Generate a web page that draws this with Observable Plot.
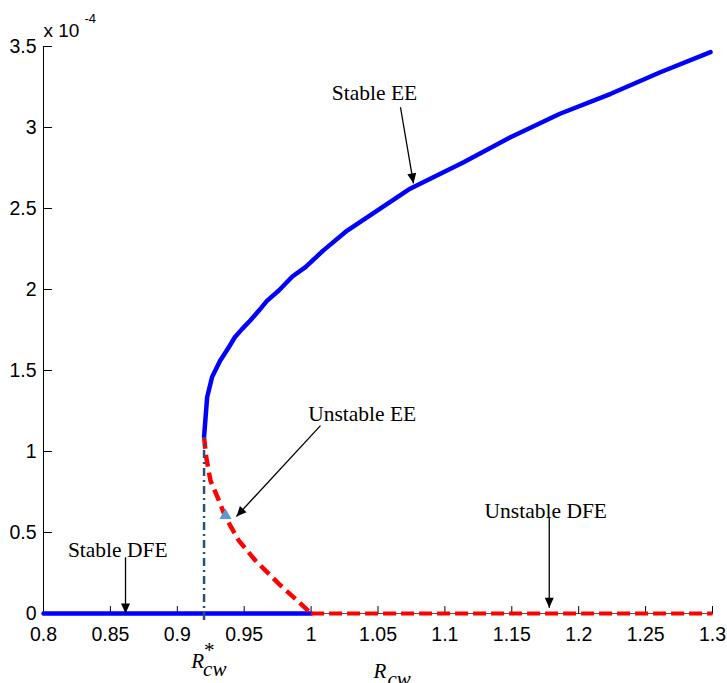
<!DOCTYPE html>
<html>
<head>
<meta charset="utf-8">
<script src="https://cdn.jsdelivr.net/npm/d3@7"></script>
<script src="https://cdn.jsdelivr.net/npm/@observablehq/plot@0.6"></script>
<style>
  html, body { margin: 0; padding: 0; background: #ffffff; }
  #chart svg { display: block; }
</style>
</head>
<body>
<div id="chart"></div>
<script>
// ---- Tick values and labels ----
const xTicks = [0.8, 0.85, 0.9, 0.95, 1.0, 1.05, 1.1, 1.15, 1.2, 1.25, 1.3];
const xTickLabels = ["0.8", "0.85", "0.9", "0.95", "1", "1.05", "1.1", "1.15", "1.2", "1.25", "1.3"];
const yTicks = [0, 0.5, 1, 1.5, 2, 2.5, 3, 3.5];
const yTickLabels = ["0", "0.5", "1", "1.5", "2", "2.5", "3", "3.5"];

// ---- Series (y in units of 1e-4) ----
const stableEEx = [0.920, 0.9223, 0.926, 0.932, 0.9385, 0.943, 0.9485, 0.9547, 0.961, 0.967, 0.9759, 0.986, 0.9958, 1.009, 1.027, 1.074, 1.114, 1.149, 1.186, 1.224, 1.261, 1.2985];
const stableEEy = [1.09, 1.335, 1.46, 1.56, 1.644, 1.705, 1.757, 1.81, 1.87, 1.93, 1.994, 2.08, 2.138, 2.24, 2.364, 2.622, 2.786, 2.94, 3.085, 3.208, 3.341, 3.465];

const unstableEEx = [0.920, 0.9216, 0.9248, 0.931, 0.936, 0.946, 0.9584, 0.9759, 0.9883, 1.0];
const unstableEEy = [1.09, 0.965, 0.82, 0.70, 0.595, 0.45, 0.327, 0.183, 0.09, 0.0];

const stableDFEx = [0.8, 1.0];
const stableDFEy = [0, 0];
const unstableDFEx = [1.0, 1.3];
const unstableDFEy = [0, 0];

// critical value R*_cw and the extent of its guide line
const rStarX = [0.92];
const rStarLineY = [-0.04, 1.09];

// marker on the unstable EE branch
const markerX = [0.936];
const markerY = [0.605];

// ---- Annotations ----
const annotText = ["Stable EE", "Unstable EE", "Stable DFE", "Unstable DFE"];
const annotX = [1.0474, 1.0382, 0.8555, 1.1754];
const annotY = [3.215, 1.228, 0.394, 0.629];
const arrowX1 = [1.0668, 1.007, 0.8613, 1.178];
const arrowY1 = [3.125, 1.16, 0.347, 0.594];
const arrowX2 = [1.0765, 0.9442, 0.8613, 1.178];
const arrowY2 = [2.655, 0.599, 0.0, 0.035];

// axis label position (x data)
const rLabelX = [1.0466];

// ---- tables built from arrays ----
const zipXY = (xs, ys) => xs.map((x, i) => ({x, y: ys[i]}));
const stableEE = zipXY(stableEEx, stableEEy);
const unstableEE = zipXY(unstableEEx, unstableEEy);
const stableDFE = zipXY(stableDFEx, stableDFEy);
const unstableDFE = zipXY(unstableDFEx, unstableDFEy);
const rStarLine = rStarLineY.map(y => ({x: rStarX[0], y}));
const marker = zipXY(markerX, markerY);
const annots = annotText.map((t, i) => ({t, x: annotX[i], y: annotY[i]}));
const arrows = arrowX1.map((x1, i) => ({x1, y1: arrowY1[i], x2: arrowX2[i], y2: arrowY2[i]}));

const tickUp = {draw(context, l) { context.moveTo(0, 0); context.lineTo(0, -l); }};

const serif = "'Liberation Serif', 'Times New Roman', serif";
const sans = "'Liberation Sans', Arial, Helvetica, sans-serif";

const chart = Plot.plot({
  width: 727,
  height: 683,
  marginTop: 46,
  marginRight: 15,
  marginBottom: 70,
  marginLeft: 43,
  style: {fontFamily: sans, fontSize: "19.5px", background: "#ffffff", color: "#000000", overflow: "visible"},
  x: {domain: [0.8, 1.3]},
  y: {domain: [0, 3.5]},
  marks: [
    // axis lines
    Plot.ruleX([0.8], {stroke: "#000000", strokeWidth: 1}),
    Plot.ruleY([0], {stroke: "#555555", strokeWidth: 1}),
    // inward ticks
    Plot.vector(xTicks, {x: d => d, y: () => 0, length: 7, rotate: 0, anchor: "start", shape: tickUp, stroke: "#000000", strokeWidth: 1}),
    Plot.vector(yTicks, {x: () => 0.8, y: d => d, length: 8, rotate: 90, anchor: "start", shape: tickUp, stroke: "#000000", strokeWidth: 1}),
    // tick labels
    Plot.axisX(xTicks, {tickSize: 0, tickPadding: 14, tickFormat: d => xTickLabels[xTicks.indexOf(d)], fontSize: 19.5, fontFamily: sans, label: null}),
    Plot.axisY(yTicks, {tickSize: 0, tickPadding: 7, tickFormat: d => yTickLabels[yTicks.indexOf(d)], fontSize: 19.5, fontFamily: sans, label: null}),
    // series
    Plot.line(stableDFE, {x: "x", y: "y", stroke: "#0000ff", strokeWidth: 4.5}),
    Plot.line(unstableDFE, {x: "x", y: "y", stroke: "#ff0000", strokeWidth: 4, strokeDasharray: "13,5", strokeLinecap: "butt"}),
    Plot.line(stableEE, {x: "x", y: "y", stroke: "#0000ff", strokeWidth: 4.5}),
    Plot.line(unstableEE, {x: "x", y: "y", stroke: "#ff0000", strokeWidth: 4.5, strokeDasharray: "12,6", strokeLinecap: "butt"}),
    Plot.line(rStarLine, {x: "x", y: "y", stroke: "#24527a", strokeWidth: 2.5, strokeDasharray: "8,4,2,4", strokeLinecap: "butt"}),
    Plot.dot(marker, {x: "x", y: "y", symbol: "triangle", r: 4.5, fill: "#5b9bd5", stroke: "none"}),
    // annotation arrows with filled heads
    Plot.link(arrows, {
      x1: "x1", y1: "y1", x2: "x2", y2: "y2", stroke: "#000000", strokeWidth: 1.3,
      render(index, scales, values, dimensions, context, next) {
        const g = next(index, scales, values, dimensions, context);
        const {x1: X1, y1: Y1, x2: X2, y2: Y2} = values;
        for (const i of index) {
          const dx = X2[i] - X1[i], dy = Y2[i] - Y1[i];
          const L = Math.hypot(dx, dy);
          const ux = dx / L, uy = dy / L;
          const hl = 10, hw = 4.5;
          const bx = X2[i] - ux * hl, by = Y2[i] - uy * hl;
          const pts = [[X2[i], Y2[i]], [bx - uy * hw, by + ux * hw], [bx + uy * hw, by - ux * hw]];
          const p = document.createElementNS("http://www.w3.org/2000/svg", "polygon");
          p.setAttribute("points", pts.map(q => q.join(",")).join(" "));
          p.setAttribute("fill", "#000000");
          p.setAttribute("stroke", "none");
          g.appendChild(p);
        }
        return g;
      }
    }),
    // annotation labels
    Plot.text(annots, {x: "x", y: "y", text: "t", fontFamily: serif, fontSize: 21.5, textAnchor: "middle", lineAnchor: "middle", fill: "#000000"}),
    // exponent multiplier
    Plot.text(["x 10"], {text: d => d, frameAnchor: "top-left", textAnchor: "start", lineAnchor: "bottom", dy: -10, fontFamily: sans, fontSize: 19, fill: "#000000"}),
    Plot.text(["-4"], {text: d => d, frameAnchor: "top-left", textAnchor: "start", lineAnchor: "bottom", dx: 41, dy: -24, fontFamily: sans, fontSize: 13, fill: "#000000"}),
    // R*_cw label
    Plot.text(["R"], {x: () => rStarX[0], text: d => d, frameAnchor: "bottom", textAnchor: "end", lineAnchor: "bottom", dy: 54, fontFamily: serif, fontStyle: "italic", fontSize: 21, fill: "#000000"}),
    Plot.text(["*"], {x: () => rStarX[0], text: d => d, frameAnchor: "bottom", textAnchor: "start", lineAnchor: "bottom", dx: 0, dy: 43, fontFamily: serif, fontSize: 21, fill: "#000000"}),
    Plot.text(["cw"], {x: () => rStarX[0], text: d => d, frameAnchor: "bottom", textAnchor: "start", lineAnchor: "bottom", dx: -1, dy: 62, fontFamily: serif, fontStyle: "italic", fontSize: 21, fill: "#000000"}),
    // R_cw label
    Plot.text(["R"], {x: () => rLabelX[0], text: d => d, frameAnchor: "bottom", textAnchor: "start", lineAnchor: "bottom", dy: 64, fontFamily: serif, fontStyle: "italic", fontSize: 21, fill: "#000000"}),
    Plot.text(["cw"], {x: () => rLabelX[0], text: d => d, frameAnchor: "bottom", textAnchor: "start", lineAnchor: "bottom", dx: 14, dy: 72, fontFamily: serif, fontStyle: "italic", fontSize: 21, fill: "#000000"})
  ]
});

document.getElementById("chart").appendChild(chart);
</script>
</body>
</html>
